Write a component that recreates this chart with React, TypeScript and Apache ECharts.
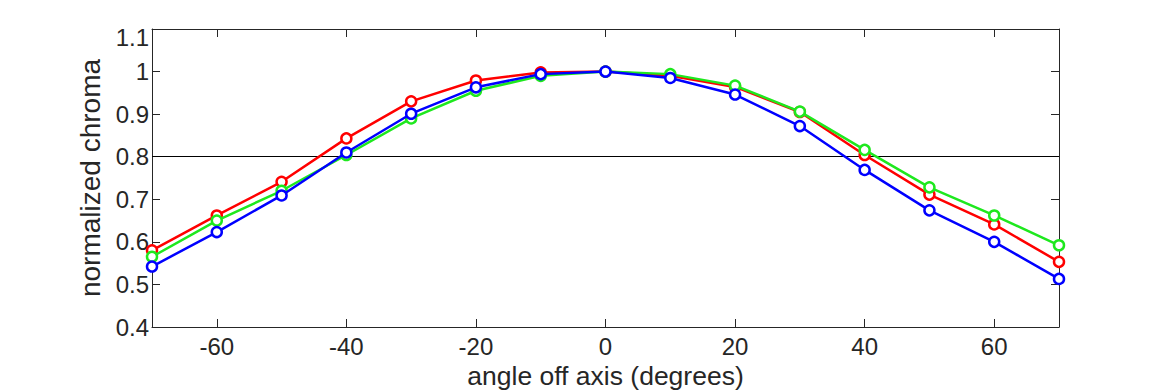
import React, { useEffect, useRef } from "react";
import * as echarts from "echarts";

const angles = [-70, -60, -50, -40, -30, -20, -10, 0, 10, 20, 30, 40, 50, 60, 70];
const redValues = [0.58, 0.662, 0.741, 0.843, 0.93, 0.979, 0.998, 1.0, 0.99, 0.964, 0.905, 0.804, 0.711, 0.641, 0.553];
const greenValues = [0.565, 0.65, 0.72, 0.804, 0.89, 0.955, 0.99, 1.0, 0.994, 0.967, 0.906, 0.816, 0.728, 0.662, 0.592];
const blueValues = [0.542, 0.623, 0.709, 0.81, 0.901, 0.963, 0.994, 1.0, 0.985, 0.946, 0.872, 0.769, 0.674, 0.6, 0.513];
const xTicks = [-60, -40, -20, 0, 20, 40, 60];
const referenceLevel = 0.8;

const FONT = "'Liberation Sans', Arial, sans-serif";
const AXIS_COLOR = "#262626";

function makeSeries(name: string, values: number[], color: string, z: number) {
  return {
    name,
    type: "line",
    data: angles.map((a, i) => [a, values[i]]),
    symbol: "circle",
    symbolSize: 10,
    z,
    lineStyle: { color, width: 2.5 },
    itemStyle: { color: "#ffffff", borderColor: color, borderWidth: 2.5 },
  };
}

export default function App() {
  const ref = useRef<HTMLDivElement>(null);
  useEffect(() => {
    if (!ref.current) return;
    const chart = echarts.init(ref.current, undefined, { renderer: "svg" });
    const commonX = {
      type: "value",
      min: -70,
      max: 70,
      splitLine: { show: false },
      axisLine: { show: true, onZero: false, lineStyle: { color: AXIS_COLOR, width: 1 } },
    };
    const commonY = {
      type: "value",
      min: 0.4,
      max: 1.1,
      interval: 0.1,
      splitLine: { show: false },
      axisLine: { show: true, onZero: false, lineStyle: { color: AXIS_COLOR, width: 1 } },
    };
    chart.setOption({
      animation: false,
      backgroundColor: "#ffffff",
      grid: { left: 152, right: 111, top: 29, bottom: 63, containLabel: false, outerBoundsMode: "none" },
      xAxis: [
        {
          ...commonX,
          position: "bottom",
          name: "angle off axis (degrees)",
          nameLocation: "middle",
          nameGap: 27,
          nameTextStyle: { fontFamily: FONT, fontSize: 26.5, lineHeight: 26, color: AXIS_COLOR },
          axisTick: { show: true, inside: true, length: 8, customValues: xTicks, lineStyle: { color: AXIS_COLOR } },
          axisLabel: { show: true, customValues: xTicks, fontFamily: FONT, fontSize: 24, color: AXIS_COLOR, margin: 7 },
        },
        {
          ...commonX,
          position: "top",
          axisTick: { show: true, inside: true, length: 8, customValues: xTicks, lineStyle: { color: AXIS_COLOR } },
          axisLabel: { show: false },
        },
      ],
      yAxis: [
        {
          ...commonY,
          position: "left",
          name: "normalized chroma",
          nameLocation: "middle",
          nameGap: 22,
          nameTextStyle: { fontFamily: FONT, fontSize: 28, color: AXIS_COLOR },
          axisTick: { show: true, inside: true, length: 8, lineStyle: { color: AXIS_COLOR } },
          axisLabel: {
            show: true,
            fontFamily: FONT,
            fontSize: 24,
            lineHeight: 16,
            color: AXIS_COLOR,
            margin: 3,
            verticalAlignMaxLabel: "top",
            formatter: (v: number) => String(parseFloat(v.toFixed(1))),
          },
        },
        {
          ...commonY,
          position: "right",
          axisTick: { show: true, inside: true, length: 8, lineStyle: { color: AXIS_COLOR } },
          axisLabel: { show: false },
        },
      ],
      series: [
        {
          ...makeSeries("red", redValues, "#ff0000", 3),
          markLine: {
            silent: true,
            symbol: "none",
            label: { show: false },
            lineStyle: { color: "#000000", width: 1.2, type: "solid" },
            data: [{ yAxis: referenceLevel }],
            z: 1,
          },
        },
        makeSeries("green", greenValues, "#1ee81e", 4),
        makeSeries("blue", blueValues, "#0000ff", 5),
      ],
    });
    return () => chart.dispose();
  }, []);
  return (
    <div
      ref={ref}
      style={{ position: "fixed", left: 0, top: 0, width: 1170, height: 390, background: "#fff" }}
    />
  );
}
